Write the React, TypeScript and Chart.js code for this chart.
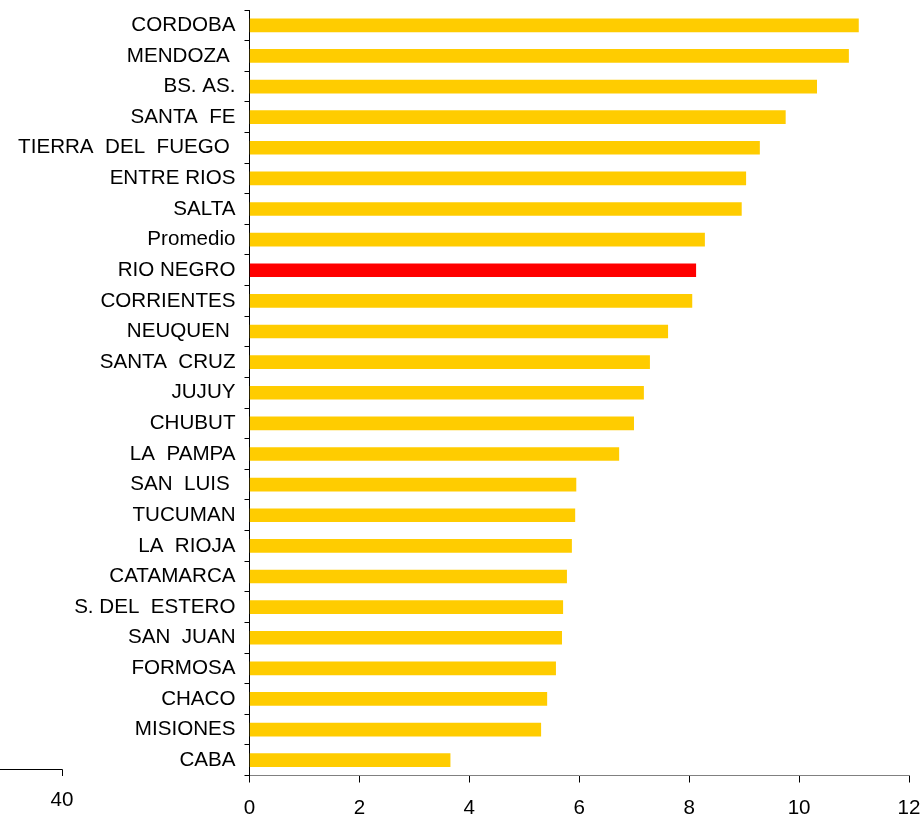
import React, { useEffect, useRef } from "react";
import { Chart, registerables } from "chart.js";

Chart.register(...registerables);

const categories = [
  "CORDOBA",
  "MENDOZA ",
  "BS. AS.",
  "SANTA  FE",
  "TIERRA  DEL  FUEGO ",
  "ENTRE RIOS",
  "SALTA",
  "Promedio",
  "RIO NEGRO",
  "CORRIENTES",
  "NEUQUEN ",
  "SANTA  CRUZ",
  "JUJUY",
  "CHUBUT",
  "LA  PAMPA",
  "SAN  LUIS ",
  "TUCUMAN",
  "LA  RIOJA",
  "CATAMARCA",
  "S. DEL  ESTERO",
  "SAN  JUAN",
  "FORMOSA",
  "CHACO",
  "MISIONES",
  "CABA",
];

const values = [
  11.08, 10.9, 10.32, 9.75, 9.28, 9.03, 8.95, 8.28, 8.12, 8.05, 7.61, 7.28, 7.17,
  6.99, 6.72, 5.94, 5.92, 5.86, 5.77, 5.7, 5.68, 5.57, 5.41, 5.3, 3.65,
];

const highlight = "RIO NEGRO";
const xTicks = [0, 2, 4, 6, 8, 10, 12];
const strayAxisLabel = "40";

const FONT = "'Liberation Sans', Arial, sans-serif";
const FONT_SIZE = 20.6;

export default function App() {
  const ref = useRef<HTMLCanvasElement | null>(null);

  useEffect(() => {
    if (!ref.current) return;
    const colors = categories.map((c) => (c.trim() === highlight ? "#ff0000" : "#ffcc00"));

    const strayAxis = {
      id: "strayAxis",
      afterDraw(chart: any) {
        const ctx = chart.ctx;
        ctx.save();
        ctx.strokeStyle = "#000";
        ctx.lineWidth = 1;
        ctx.beginPath();
        ctx.moveTo(0, 769.5);
        ctx.lineTo(62.5, 769.5);
        ctx.lineTo(62.5, 776);
        ctx.stroke();
        ctx.fillStyle = "#000";
        ctx.font = `${FONT_SIZE}px ${FONT}`;
        ctx.textAlign = "center";
        ctx.textBaseline = "middle";
        ctx.fillText(strayAxisLabel, 62, 800);
        ctx.restore();
      },
    };

    const chart = new Chart(ref.current, {
      type: "bar",
      data: {
        labels: categories,
        datasets: [
          {
            data: values,
            backgroundColor: colors,
            borderWidth: 0,
            barThickness: 13,
          },
        ],
      },
      options: {
        indexAxis: "y",
        animation: false,
        responsive: true,
        maintainAspectRatio: false,
        layout: { padding: { top: 10, right: 14, left: 0, bottom: 0 } },
        plugins: { legend: { display: false }, tooltip: { enabled: false } },
        scales: {
          x: {
            type: "linear",
            min: 0,
            max: 12,
            afterBuildTicks(scale: any) {
              scale.ticks = xTicks.map((v) => ({ value: v }));
            },
            afterFit(scale: any) {
              scale.height = 39.5;
              scale.paddingLeft = 0;
              scale.paddingRight = 0;
            },
            border: { display: true, color: "#808080", width: 1 },
            grid: {
              display: true,
              drawOnChartArea: false,
              drawTicks: true,
              tickLength: 7,
              color: "#000",
            },
            ticks: {
              color: "#000",
              font: { family: FONT, size: FONT_SIZE },
              padding: 13,
              maxRotation: 0,
            },
          },
          y: {
            type: "category",
            afterFit(scale: any) {
              scale.width = 249.5;
              scale.paddingTop = 0;
              scale.paddingBottom = 0;
            },
            border: { display: true, color: "#000", width: 1 },
            grid: {
              display: true,
              offset: true,
              drawOnChartArea: false,
              drawTicks: true,
              tickLength: 5,
              color: "#000",
            },
            ticks: {
              color: "#000",
              font: { family: FONT, size: FONT_SIZE },
              padding: 9,
              autoSkip: false,
            },
          },
        },
      },
      plugins: [strayAxis],
    });
    return () => chart.destroy();
  }, []);

  return (
    <div style={{ position: "fixed", left: 0, top: 0, width: 923, height: 815, background: "#fff" }}>
      <canvas ref={ref} />
    </div>
  );
}
